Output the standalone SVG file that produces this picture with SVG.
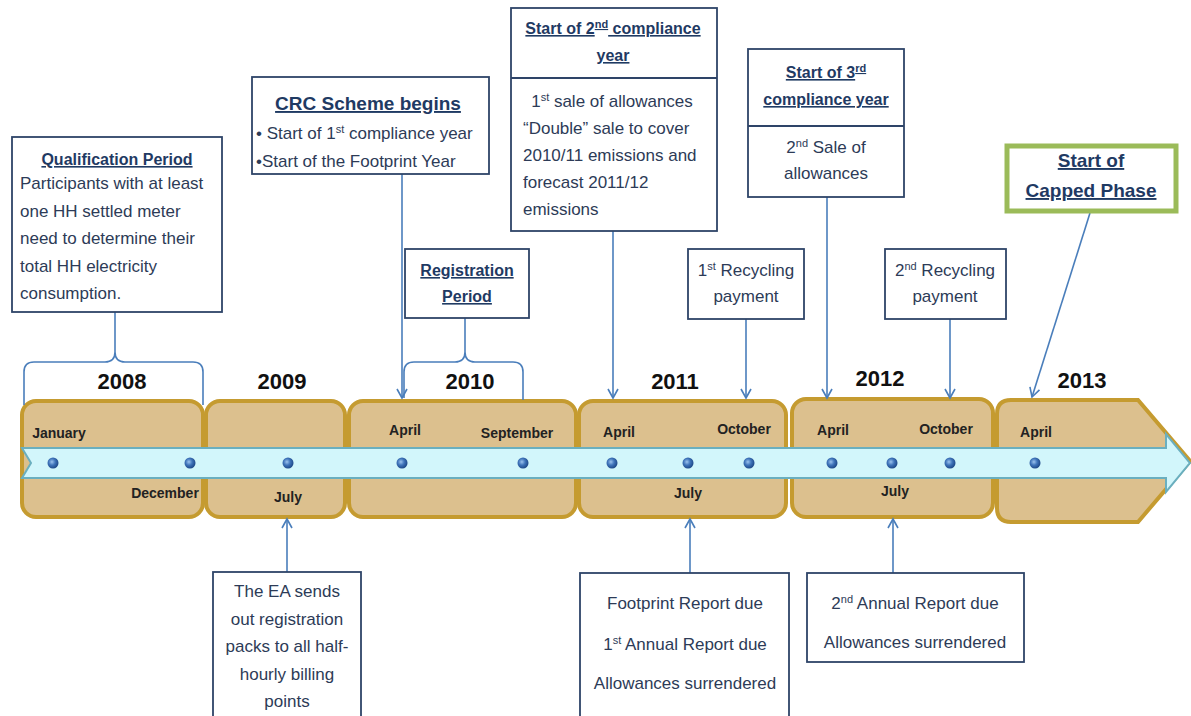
<svg xmlns="http://www.w3.org/2000/svg" width="1191" height="716" viewBox="0 0 1191 716">
<defs>
<style>
.box{fill:#fff;stroke:#2E4468;stroke-width:1.8}
.seg{fill:#DCC08E;stroke:#C59B30;stroke-width:4}
.conn{fill:none;stroke:#4A7EBB;stroke-width:1.6}
.t{font-family:"Liberation Sans",Arial,sans-serif;font-size:17px;fill:#2D3B57}
.tc{text-anchor:middle}
.ti{font-family:"Liberation Sans",Arial,sans-serif;font-weight:bold;fill:#1F3A63;text-decoration:underline;text-anchor:middle}
.yr{font-family:"Liberation Sans",Arial,sans-serif;font-weight:bold;font-size:22px;fill:#111;text-anchor:middle}
.mo{font-family:"Liberation Sans",Arial,sans-serif;font-weight:bold;font-size:14px;fill:#222;text-anchor:middle}
.sup{font-size:11px}
.dot{fill:url(#dg)}
</style>
<radialGradient id="dg" cx="0.4" cy="0.4" r="0.6">
<stop offset="0" stop-color="#9CC3EE"/>
<stop offset="0.5" stop-color="#3F74BA"/>
<stop offset="1" stop-color="#1F4A8A"/>
</radialGradient>
<marker id="ar" markerWidth="12" markerHeight="12" refX="10" refY="6" orient="auto" markerUnits="userSpaceOnUse">
<path d="M1,1 L10,6 L1,11" fill="none" stroke="#4A7EBB" stroke-width="1.6"/>
</marker>
</defs>

<g id="timeline">
<rect class="seg" x="22" y="401" width="181" height="116" rx="14"/>
<rect class="seg" x="206" y="401" width="139" height="116" rx="14"/>
<rect class="seg" x="349" y="401" width="227" height="116" rx="14"/>
<rect class="seg" x="579" y="401" width="207" height="116" rx="14"/>
<rect class="seg" x="792" y="399" width="201" height="118" rx="14"/>
<path class="seg" d="M1011 400 L1138 400 L1190 461 L1138 522 L1011 522 Q997 522 997 508 L997 414 Q997 400 1011 400 Z"/>
<path d="M22 448 L1166 448 L1166 434 L1190 463 L1166 492 L1166 478 L22 478 L31 463 Z" fill="#D2F6FB" stroke="#6AAFBF" stroke-width="2"/>
<circle class="dot" cx="53" cy="463" r="5.5"/>
<circle class="dot" cx="190" cy="463" r="5.5"/>
<circle class="dot" cx="288" cy="463" r="5.5"/>
<circle class="dot" cx="402" cy="463" r="5.5"/>
<circle class="dot" cx="523" cy="463" r="5.5"/>
<circle class="dot" cx="612" cy="463" r="5.5"/>
<circle class="dot" cx="688" cy="463" r="5.5"/>
<circle class="dot" cx="749" cy="463" r="5.5"/>
<circle class="dot" cx="832" cy="463" r="5.5"/>
<circle class="dot" cx="892" cy="463" r="5.5"/>
<circle class="dot" cx="950" cy="463" r="5.5"/>
<circle class="dot" cx="1035" cy="463" r="5.5"/>
<text class="yr" x="122" y="389">2008</text>
<text class="yr" x="282" y="389">2009</text>
<text class="yr" x="470" y="389">2010</text>
<text class="yr" x="675" y="389">2011</text>
<text class="yr" x="880" y="386">2012</text>
<text class="yr" x="1082" y="388">2013</text>
<text class="mo" x="59" y="438">January</text>
<text class="mo" x="165" y="498">December</text>
<text class="mo" x="288" y="502">July</text>
<text class="mo" x="405" y="435">April</text>
<text class="mo" x="517" y="438">September</text>
<text class="mo" x="619" y="437">April</text>
<text class="mo" x="744" y="434">October</text>
<text class="mo" x="688" y="498">July</text>
<text class="mo" x="833" y="435">April</text>
<text class="mo" x="946" y="434">October</text>
<text class="mo" x="895" y="496">July</text>
<text class="mo" x="1036" y="437">April</text>
</g>

<g id="connectors">
<line class="conn" x1="115" y1="312" x2="115" y2="352"/>
<path class="conn" d="M24 405 L24 372 Q24 362 34 362 L105 362 Q115 362 115 352 Q115 362 125 362 L193 362 Q203 362 203 372 L203 405"/>
<line class="conn" x1="402" y1="174" x2="402" y2="398" marker-end="url(#ar)"/>
<line class="conn" x1="465" y1="318" x2="465" y2="352"/>
<path class="conn" d="M404 398 L404 372 Q404 362 414 362 L455 362 Q465 362 465 352 Q465 362 475 362 L513 362 Q523 362 523 372 L523 400"/>
<line class="conn" x1="613" y1="231" x2="613" y2="398" marker-end="url(#ar)"/>
<line class="conn" x1="746" y1="319" x2="746" y2="398" marker-end="url(#ar)"/>
<line class="conn" x1="827" y1="197" x2="827" y2="398" marker-end="url(#ar)"/>
<line class="conn" x1="950" y1="319" x2="950" y2="398" marker-end="url(#ar)"/>
<line class="conn" x1="1090" y1="213" x2="1032" y2="397" marker-end="url(#ar)"/>
<line class="conn" x1="287" y1="572" x2="287" y2="519" marker-end="url(#ar)"/>
<line class="conn" x1="690" y1="573" x2="690" y2="519" marker-end="url(#ar)"/>
<line class="conn" x1="893" y1="573" x2="893" y2="519" marker-end="url(#ar)"/>
</g>

<g id="qualification">
<rect class="box" x="12" y="137" width="210" height="175"/>
<text class="ti" x="117" y="165" font-size="16">Qualification Period</text>
<text class="t" x="20" y="189">Participants with at least</text>
<text class="t" x="20" y="217">one HH settled meter</text>
<text class="t" x="20" y="244">need to determine their</text>
<text class="t" x="20" y="272">total HH electricity</text>
<text class="t" x="20" y="299">consumption.</text>
</g>

<g id="crc">
<rect class="box" x="252" y="77" width="237" height="97"/>
<text class="ti" x="368" y="110" font-size="19">CRC Scheme begins</text>
<text class="t" x="256" y="139">• Start of 1<tspan class="sup" dy="-6">st</tspan><tspan dy="6"> compliance year</tspan></text>
<text class="t" x="256" y="167">•Start of the Footprint Year</text>
</g>

<g id="registration">
<rect class="box" x="405" y="249" width="124" height="69"/>
<text class="ti" x="467" y="276" font-size="16">Registration</text>
<text class="ti" x="467" y="302" font-size="16">Period</text>
</g>

<g id="second-year">
<rect class="box" x="511" y="8" width="206" height="223"/>
<line x1="511" y1="78" x2="717" y2="78" stroke="#2E4468" stroke-width="1.8"/>
<text class="ti" x="613" y="34" font-size="16">Start of 2<tspan class="sup" dy="-6">nd</tspan><tspan dy="6"> compliance</tspan></text>
<text class="ti" x="613" y="61" font-size="16">year</text>
<text class="t tc" x="612" y="107">1<tspan class="sup" dy="-6">st</tspan><tspan dy="6"> sale of allowances</tspan></text>
<text class="t" x="523" y="134">“Double” sale to cover</text>
<text class="t" x="523" y="161">2010/11 emissions and</text>
<text class="t" x="523" y="188">forecast 2011/12</text>
<text class="t" x="523" y="215">emissions</text>
</g>

<g id="third-year">
<rect class="box" x="748" y="49" width="156" height="148"/>
<line x1="748" y1="126" x2="904" y2="126" stroke="#2E4468" stroke-width="1.8"/>
<text class="ti" x="826" y="78" font-size="16">Start of 3<tspan class="sup" dy="-6">rd</tspan></text>
<text class="ti" x="826" y="105" font-size="16">compliance year</text>
<text class="t tc" x="826" y="153">2<tspan class="sup" dy="-6">nd</tspan><tspan dy="6"> Sale of</tspan></text>
<text class="t tc" x="826" y="179">allowances</text>
</g>

<g id="recycling1">
<rect class="box" x="688" y="249" width="116" height="70"/>
<text class="t tc" x="746" y="276">1<tspan class="sup" dy="-6">st</tspan><tspan dy="6"> Recycling</tspan></text>
<text class="t tc" x="746" y="302">payment</text>
</g>

<g id="recycling2">
<rect class="box" x="885" y="249" width="121" height="70"/>
<text class="t tc" x="945" y="276">2<tspan class="sup" dy="-6">nd</tspan><tspan dy="6"> Recycling</tspan></text>
<text class="t tc" x="945" y="302">payment</text>
</g>

<g id="capped">
<rect x="1007" y="146" width="169" height="65" fill="#fff" stroke="#9BBB59" stroke-width="5"/>
<text class="ti" x="1091" y="167" font-size="19">Start of</text>
<text class="ti" x="1091" y="197" font-size="19">Capped Phase</text>
</g>

<g id="ea-packs">
<rect class="box" x="213" y="572" width="148" height="150"/>
<text class="t tc" x="287" y="597">The EA sends</text>
<text class="t tc" x="287" y="625">out registration</text>
<text class="t tc" x="287" y="652">packs to all half-</text>
<text class="t tc" x="287" y="680">hourly billing</text>
<text class="t tc" x="287" y="707">points</text>
</g>

<g id="footprint-report">
<rect class="box" x="580" y="573" width="209" height="150"/>
<text class="t tc" x="685" y="609">Footprint Report due</text>
<text class="t tc" x="685" y="650">1<tspan class="sup" dy="-6">st</tspan><tspan dy="6"> Annual Report due</tspan></text>
<text class="t tc" x="685" y="689">Allowances surrendered</text>
</g>

<g id="second-annual">
<rect class="box" x="807" y="573" width="217" height="89"/>
<text class="t tc" x="915" y="609">2<tspan class="sup" dy="-6">nd</tspan><tspan dy="6"> Annual Report due</tspan></text>
<text class="t tc" x="915" y="648">Allowances surrendered</text>
</g>
</svg>
